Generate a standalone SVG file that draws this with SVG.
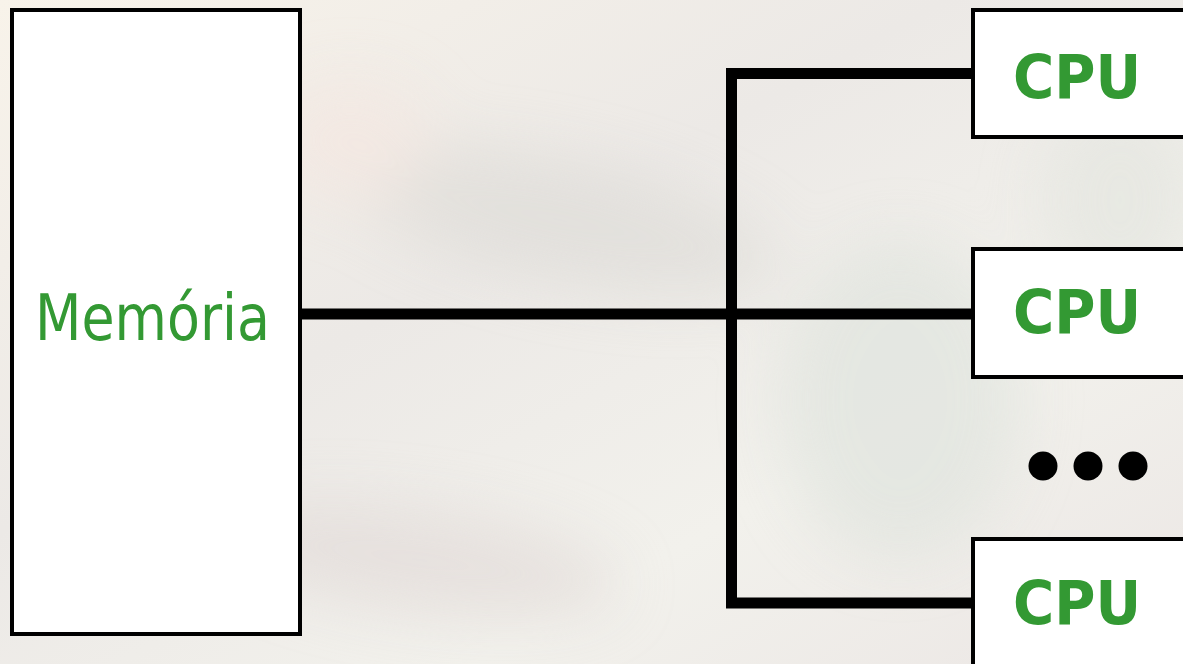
<svg xmlns="http://www.w3.org/2000/svg" width="1183" height="664" viewBox="0 0 1183 664">
  <style>
    .box { fill: #ffffff; stroke: #000000; stroke-width: 4; }
    .wire { fill: none; stroke: #000000; stroke-width: 11; stroke-linejoin: miter; stroke-linecap: butt; }
    .lbl { fill: #339933; font-family: "DejaVu Sans", "Liberation Sans", sans-serif; text-anchor: middle; }
    .cpu { font-size: 60px; font-weight: bold; }
    .mem { font-size: 64px; }
  </style>
  <defs>
    <linearGradient id="bg" x1="0" y1="0" x2="1" y2="1">
      <stop offset="0" stop-color="#f8f3ea"/>
      <stop offset="0.4" stop-color="#ece9e6"/>
      <stop offset="0.7" stop-color="#f2f1ec"/>
      <stop offset="1" stop-color="#ebe6e4"/>
    </linearGradient>
    <filter id="blur" x="-50%" y="-50%" width="200%" height="200%">
      <feGaussianBlur stdDeviation="30"/>
    </filter>
  </defs>
  <g id="background">
    <rect x="0" y="0" width="1183" height="664" fill="url(#bg)"/>
    <g filter="url(#blur)" opacity="0.6">
      <ellipse cx="560" cy="220" rx="220" ry="60" fill="#dcdad6" transform="rotate(12 560 220)"/>
      <ellipse cx="420" cy="560" rx="200" ry="50" fill="#e0d8d6" transform="rotate(8 420 560)"/>
      <ellipse cx="900" cy="400" rx="120" ry="160" fill="#dde2dc"/>
      <ellipse cx="350" cy="140" rx="80" ry="60" fill="#f4e6e0"/>
      <ellipse cx="1120" cy="200" rx="80" ry="100" fill="#e2e4de"/>
    </g>
  </g>
  <g id="connectors">
    <path class="wire" d="M302,314 H973"/>
    <path class="wire" d="M973,73.5 H731.5 V603 H973"/>
  </g>
  <g id="memoria">
    <rect class="box" x="12" y="10" width="288" height="624"/>
    <text class="lbl mem" x="152.5" y="340" textLength="235" lengthAdjust="spacingAndGlyphs">Memória</text>
  </g>
  <g id="cpu1">
    <rect class="box" x="973" y="10" width="230" height="127"/>
    <text class="lbl cpu" x="1077" y="98" textLength="128" lengthAdjust="spacingAndGlyphs">CPU</text>
  </g>
  <g id="cpu2">
    <rect class="box" x="973" y="249" width="230" height="128"/>
    <text class="lbl cpu" x="1077" y="333" textLength="128" lengthAdjust="spacingAndGlyphs">CPU</text>
  </g>
  <g id="dots">
    <circle cx="1043" cy="466" r="14.5" fill="#000000"/>
    <circle cx="1088" cy="466" r="14.5" fill="#000000"/>
    <circle cx="1133" cy="466" r="14.5" fill="#000000"/>
  </g>
  <g id="cpu3">
    <rect class="box" x="973" y="539" width="230" height="140"/>
    <text class="lbl cpu" x="1077" y="624" textLength="128" lengthAdjust="spacingAndGlyphs">CPU</text>
  </g>
</svg>
